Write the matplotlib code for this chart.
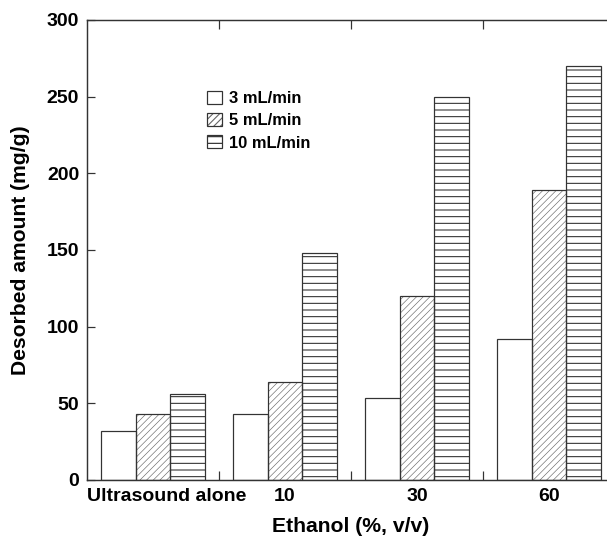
import matplotlib
matplotlib.use("Agg")
import matplotlib.pyplot as plt
import numpy as np
from matplotlib.transforms import ScaledTranslation
from matplotlib.legend_handler import HandlerTuple

plt.rcParams['font.family'] = ['Liberation Sans', 'DejaVu Sans']
plt.rcParams['font.weight'] = 'bold'

categories = ["Ultrasound alone", "10", "30", "60"]
series_names = ["3 mL/min", "5 mL/min", "10 mL/min"]
rate_3 = [32, 43, 53.5, 92]
rate_5 = [43, 64, 120, 189]
rate_10 = [56, 148, 250, 270]
series_values = [rate_3, rate_5, rate_10]
hatches = [None, '////', '--']
hatch_colors = ['#333333', '#666666', '#222222']
hatch_lws = [0.6, 0.55, 0.9]

DPI = 80
fig = plt.figure(figsize=(607 / DPI, 537 / DPI), dpi=DPI)
ax = fig.add_axes([87 / 607, (537 - 480) / 537, (615 - 87) / 607, (480 - 20) / 537])

x = np.arange(len(categories))
width = 0.265
edge = '#333333'
handles = []
for i, (name, vals) in enumerate(zip(series_names, series_values)):
    pos = x + (i - 1) * width
    with plt.rc_context({'hatch.linewidth': hatch_lws[i]}):
        b1 = ax.bar(pos, vals, width, color='white', edgecolor=hatch_colors[i],
                    hatch=hatches[i], linewidth=0, zorder=2)
    b2 = ax.bar(pos, vals, width, color='none', edgecolor=edge,
                linewidth=1.1, zorder=3)
    handles.append((b1, b2))

ax.set_xlim(-0.5, 3.5)
ax.set_ylim(0, 300)
ax.set_yticks(np.arange(0, 301, 50))
ax.set_xticks([0.5, 1.5, 2.5])
ax.set_xticklabels([])
ax.set_xticks(x, minor=True)
ax.set_xticklabels(categories, minor=True)
ax.tick_params(axis='x', which='major', direction='in', length=8, width=1.1,
               top=True, bottom=True, color=edge)
ax.tick_params(axis='x', which='minor', length=0, pad=7, labelsize=17.5)
ax.tick_params(axis='y', direction='in', length=7, width=1.1, pad=7,
               labelsize=17.5, color=edge)
for s in ax.spines.values():
    s.set_linewidth(1.3)
    s.set_color(edge)

lbls = ax.get_xticklabels(minor=True)
lbls[0].set_transform(lbls[0].get_transform() + ScaledTranslation(14 / DPI, 0, fig.dpi_scale_trans))

sec = ax.secondary_yaxis('right')
sec.set_yticks(np.arange(0, 301, 50))
sec.tick_params(direction='in', length=7, labelright=False, color=edge)

ax.set_xlabel("Ethanol (%, v/v)", fontsize=19, fontweight='bold', labelpad=11)
ax.set_ylabel("Desorbed amount (mg/g)", fontsize=19, fontweight='bold', labelpad=15)

leg = ax.legend(handles, series_names, handler_map={tuple: HandlerTuple(ndivide=1)},
                loc='upper left', bbox_to_anchor=(207 / 607, 1 - 91 / 537),
                bbox_transform=fig.transFigure, frameon=False, fontsize=14.8,
                handlelength=0.9, handleheight=0.85, labelspacing=0.42,
                handletextpad=0.42, borderpad=0, borderaxespad=0)

fig.savefig("out.png", dpi=DPI)
